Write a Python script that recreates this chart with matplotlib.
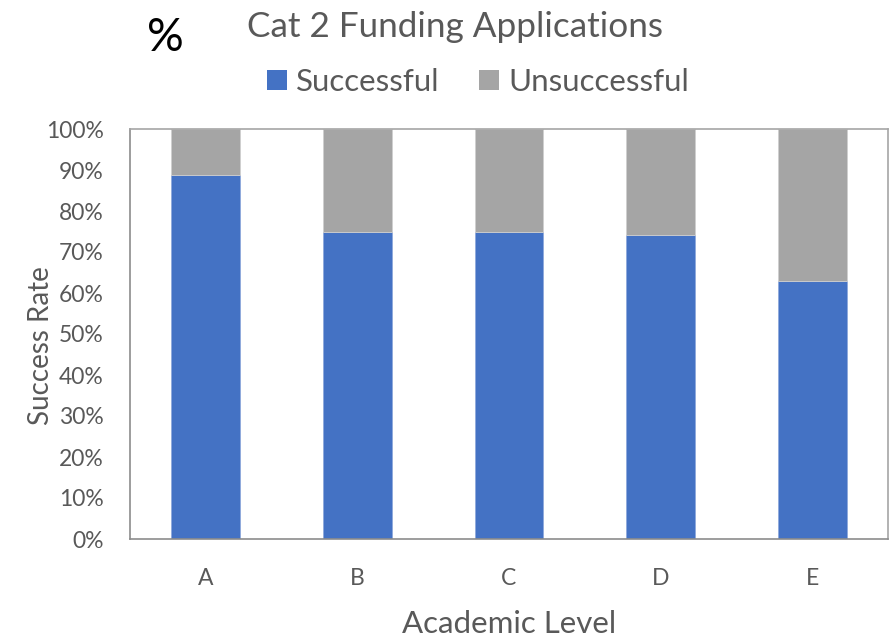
import matplotlib
matplotlib.use("Agg")
import matplotlib.pyplot as plt
from matplotlib.patches import Patch
import numpy as np

categories = ["A", "B", "C", "D", "E"]
successful = [88.8, 75.0, 75.0, 74.2, 63.0]
unsuccessful = [100 - v for v in successful]
yticks = [0, 10, 20, 30, 40, 50, 60, 70, 80, 90, 100]

BLUE = "#4472C4"
GRAY = "#A5A5A5"
TXT = "#595959"

plt.rcParams["font.family"] = ["Lato", "DejaVu Sans"]

fig = plt.figure(figsize=(8.91, 6.43), dpi=100)
ax = fig.add_axes([130/891, (643-539)/643, (888-130)/891, (539-129)/643])

x = np.arange(len(categories))
w = 0.455
ax.bar(x, successful, w, color=BLUE, edgecolor="#8fa9dc", linewidth=0.6, zorder=2)
ax.bar(x, unsuccessful, w, bottom=successful, color=GRAY, edgecolor="#cfcfcf", linewidth=0.6, zorder=2)

ax.set_xlim(-0.5, len(categories) - 0.5)
ax.set_ylim(0, 100)
ax.set_yticks(yticks)
ax.set_yticklabels([f"{t}%" for t in yticks], fontsize=16.5, color=TXT)
ax.set_xticks(x)
ax.set_xticklabels(categories, fontsize=16.5, color=TXT)
ax.tick_params(axis="both", length=0)
ax.tick_params(axis="x", pad=21)
ax.tick_params(axis="y", pad=19)
for s in ax.spines.values():
    s.set_color("#A6A6A6")
    s.set_linewidth(1.2)
ax.spines["bottom"].set_color("#8C8C8C")
ax.spines["left"].set_color("#8C8C8C")

ax.set_xlabel("Academic Level", fontsize=22.5, color=TXT, labelpad=15)
ax.set_ylabel("Success Rate", fontsize=20, color=TXT)
ax.yaxis.set_label_coords((54 - 130) / 758, (539 - 346) / 410)

fig.text(455/891, 1 - 27/643, "Cat 2 Funding Applications", ha="center", va="center",
         fontsize=25.3, color=TXT)
fig.text(165/891, 1 - 38/643, "%", ha="center", va="center", fontsize=33, color="black")

handles = [Patch(facecolor=BLUE, label="Successful"), Patch(facecolor=GRAY, label="Unsuccessful")]
leg = fig.legend(handles=handles, loc="center", bbox_to_anchor=(478/891, 1 - 82/643), ncol=2,
                 frameon=False, fontsize=22.5, handlelength=0.65, handleheight=0.65,
                 handletextpad=0.3, columnspacing=1.25)
for t in leg.get_texts():
    t.set_color(TXT)

fig.savefig("out.png", dpi=100)
